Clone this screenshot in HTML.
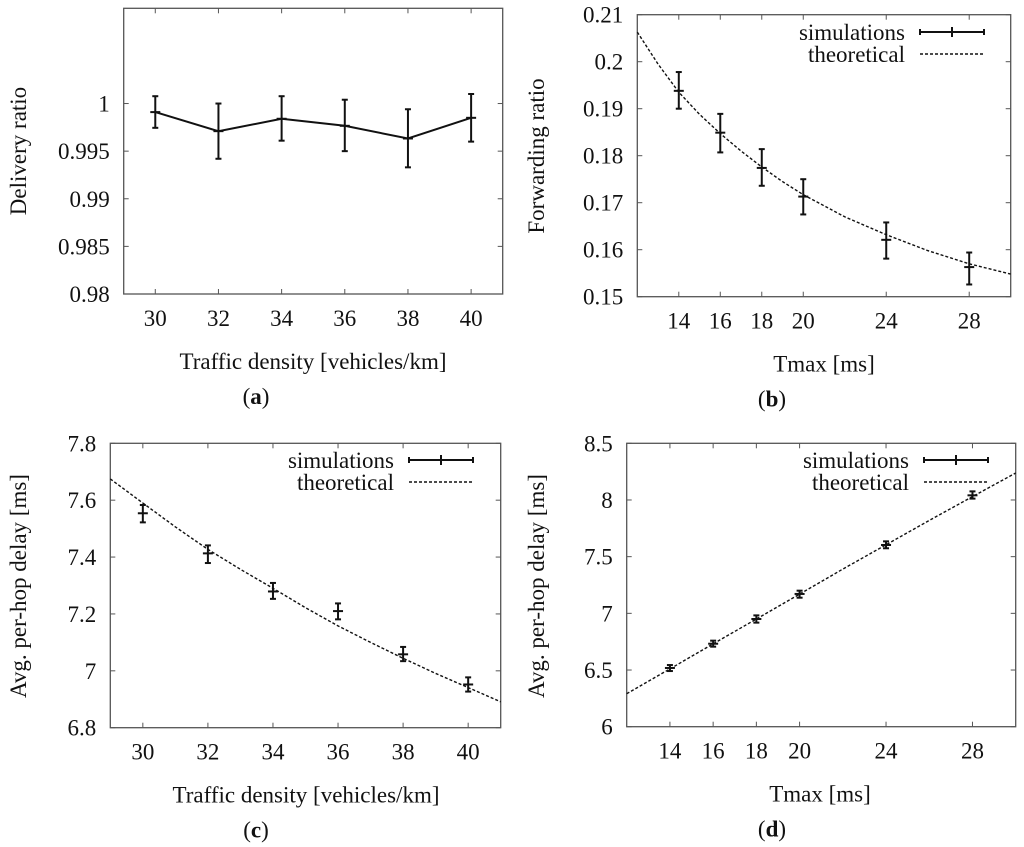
<!DOCTYPE html>
<html><head><meta charset="utf-8"><style>
html,body{margin:0;padding:0;background:#fff;}
svg{display:block;font-family:"Liberation Serif",serif;}
svg text{font-family:"Liberation Serif",serif;}
</style></head><body>
<svg id="fig" width="1024" height="847" viewBox="0 0 1024 847" font-family="Liberation Serif, serif"></svg>
<script>
const NS='http://www.w3.org/2000/svg';
// Panel (a)
const aX=[30,32,34,36,38,40];
const aY=[0.9991,0.9971,0.9984,0.99766,0.99633,0.9985];
const aHi=[1.00077,1.0,1.00077,1.0004,0.9994,1.001];
const aLo=[0.99745,0.9942,0.9961,0.995,0.9933,0.9960];
const aXTicks=[30,32,34,36,38,40];
const aYTicks=[0.98,0.985,0.99,0.995,1];
const aYLabels=['0.98','0.985','0.99','0.995','1'];
// Panel (b)
const bX=[14,16,18,20,24,28];
const bY=[0.1938,0.1849,0.1774,0.1713,0.1621,0.1563];
const bHi=[0.1978,0.1889,0.1814,0.1750,0.1658,0.1594];
const bLo=[0.1900,0.1807,0.1736,0.1675,0.1581,0.1526];
const bTheoX=[12,13,14,15,16,17,18,19,20,22,24,26,28,30];
const bTheoY=[0.2063,0.1995,0.1935,0.1888,0.1847,0.1810,0.1776,0.1745,0.1717,0.1670,0.1632,0.1598,0.1570,0.1548];
const bXTicks=[14,16,18,20,24,28];
const bYTicks=[0.15,0.16,0.17,0.18,0.19,0.2,0.21];
const bYLabels=['0.15','0.16','0.17','0.18','0.19','0.2','0.21'];
// Panel (c)
const cX=[30,32,34,36,38,40];
const cY=[7.554,7.413,7.279,7.210,7.058,6.952];
const cHi=[7.583,7.441,7.309,7.237,7.084,6.977];
const cLo=[7.522,7.379,7.253,7.181,7.034,6.927];
const cTheoX=[29,30,31,32,33,34,35,36,37,38,39,40,41];
const cTheoY=[7.675,7.590,7.506,7.427,7.357,7.290,7.222,7.158,7.100,7.044,6.991,6.941,6.891];
const cXTicks=[30,32,34,36,38,40];
const cYTicks=[6.8,7,7.2,7.4,7.6,7.8];
const cYLabels=['6.8','7','7.2','7.4','7.6','7.8'];
// Panel (d)
const dX=[14,16,18,20,24,28];
const dY=[6.518,6.732,6.95,7.171,7.603,8.041];
const dHi=[6.544,6.759,6.982,7.2,7.635,8.076];
const dLo=[6.491,6.706,6.918,7.138,7.574,8.012];
const dTheoX=[12,14,16,18,20,22,24,26,28,30];
const dTheoY=[6.291,6.51,6.73,6.95,7.17,7.39,7.605,7.82,8.03,8.238];
const dXTicks=[14,16,18,20,24,28];
const dYTicks=[6,6.5,7,7.5,8,8.5];
const dYLabels=['6','6.5','7','7.5','8','8.5'];

const FS=23;
const svg=document.getElementById('fig');
function el(tag,attrs,parent){const e=document.createElementNS(NS,tag);for(const k in attrs)e.setAttribute(k,attrs[k]);(parent||svg).appendChild(e);return e;}
function txt(s,attrs,parent){const t=el('text',attrs,parent);t.textContent=s;return t;}

function panel(o){
  const g=el('g',{});
  
  
  const sx=v=>o.x0+(v-o.xmin)/(o.xmax-o.xmin)*(o.x1-o.x0);
  const sy=v=>o.y1-(v-o.ymin)/(o.ymax-o.ymin)*(o.y1-o.y0);
  o.xt.forEach(v=>{const x=sx(v);
    const t1=el('line',{x1:x,x2:x,y1:o.y1,y2:o.y1-5,stroke:'#555','stroke-width':1},g);
    
    el('line',{x1:x,x2:x,y1:o.y0,y2:o.y0+5,stroke:'#555','stroke-width':1},g);
    const l=txt(String(v),{x:x,y:o.y1+32,'text-anchor':'middle','font-size':FS,fill:'#111'},g);
    
  });
  o.yt.forEach((v,i)=>{const y=sy(v);
    const t1=el('line',{x1:o.x0,x2:o.x0+5,y1:y,y2:y,stroke:'#555','stroke-width':1},g);
    
    el('line',{x1:o.x1,x2:o.x1-5,y1:y,y2:y,stroke:'#555','stroke-width':1},g);
    const l=txt(o.yl[i],{x:o.x0-14,y:y+8,'text-anchor':'end','font-size':FS,fill:'#111'},g);
    
  });
  const fr=el('rect',{x:o.x0,y:o.y0,width:o.x1-o.x0,height:o.y1-o.y0,fill:'none',stroke:'#555','stroke-width':1.3},g);
  
  if(o.tx){
    const d=o.tx.map((v,i)=>(i?'L':'M')+sx(v).toFixed(1)+','+sy(o.ty[i]).toFixed(1)).join(' ');
    const p=el('path',{d:d,fill:'none',stroke:'#111','stroke-width':1.4,'stroke-dasharray':'3,2'},g);
    
  }
  if(o.line){
    const d=o.sx.map((v,i)=>(i?'L':'M')+sx(v).toFixed(1)+','+sy(o.sy[i]).toFixed(1)).join(' ');
    const p=el('path',{d:d,fill:'none',stroke:'#111','stroke-width':2},g);
    
  }
  o.sx.forEach((v,i)=>{
    const x=sx(v),yc=sy(o.sy[i]),yh=sy(o.hi[i]),yl=sy(o.lo[i]);
    const eg=el('g',{stroke:'#111','stroke-width':2},g);
    
    
    el('line',{x1:x,x2:x,y1:yh,y2:yl},eg);
    el('line',{x1:x-3,x2:x+3,y1:yh,y2:yh},eg);
    el('line',{x1:x-3,x2:x+3,y1:yl,y2:yl},eg);
    el('line',{x1:x-5,x2:x+5,y1:yc,y2:yc},eg);
  });
  if(o.legend){
    const lg=el('g',{},g);
    
    const L=o.legend;
    const a=txt('simulations',{x:L.tx,y:L.y1+8,'text-anchor':'end','font-size':FS,fill:'#111'},lg);
    
    el('line',{x1:L.lx0,x2:L.lx1,y1:L.y1,y2:L.y1,stroke:'#111','stroke-width':2},lg);
    el('line',{x1:L.lx0,x2:L.lx0,y1:L.y1-3,y2:L.y1+3,stroke:'#111','stroke-width':2},lg);
    el('line',{x1:L.lx1,x2:L.lx1,y1:L.y1-3,y2:L.y1+3,stroke:'#111','stroke-width':2},lg);
    const mx=(L.lx0+L.lx1)/2;
    el('line',{x1:mx,x2:mx,y1:L.y1-5,y2:L.y1+5,stroke:'#111','stroke-width':2},lg);
    const b=txt('theoretical',{x:L.tx,y:L.y1+30,'text-anchor':'end','font-size':FS,fill:'#111'},lg);
    
    el('line',{x1:L.lx0,x2:L.lx1,y1:L.y1+22,y2:L.y1+22,stroke:'#111','stroke-width':1.4,'stroke-dasharray':'3,2'},lg);
  }
  const xt=txt(o.xtitle,{x:o.xtx,y:o.y1+75,'text-anchor':'middle','font-size':FS,fill:'#111'},g);
  
  const yt=txt(o.ytitle,{x:0,y:0,'text-anchor':'middle','font-size':FS,fill:'#111',transform:'translate('+o.ytx+','+o.yty+') rotate(-90)'},g);
  
  const cap=el('text',{x:o.capx,y:o.y1+110,'text-anchor':'middle','font-size':FS,fill:'#111'},g);
  
  cap.appendChild(document.createTextNode('('));
  const bb=el('tspan',{'font-weight':'bold'},cap);bb.textContent=o.cap;
  cap.appendChild(document.createTextNode(')'));
}

panel({name:'panel-a',x0:123.7,x1:502.7,y0:8.3,y1:294,xmin:29,xmax:41,ymin:0.98,ymax:1.01,
  xt:aXTicks,yt:aYTicks,yl:aYLabels,sx:aX,sy:aY,hi:aHi,lo:aLo,line:true,
  xtitle:'Traffic density [vehicles/km]',xtx:313,ytitle:'Delivery ratio',ytx:26,yty:151,capx:256,cap:'a'});
panel({name:'panel-b',x0:637.3,x1:1010.7,y0:14.7,y1:296.7,xmin:12,xmax:30,ymin:0.15,ymax:0.21,
  xt:bXTicks,yt:bYTicks,yl:bYLabels,sx:bX,sy:bY,hi:bHi,lo:bLo,tx:bTheoX,ty:bTheoY,
  legend:{tx:905,lx0:920,lx1:984,y1:32},
  xtitle:'Tmax [ms]',xtx:824,ytitle:'Forwarding ratio',ytx:544,yty:156,capx:772,cap:'b'});
panel({name:'panel-c',x0:110.3,x1:500.7,y0:443.3,y1:727.7,xmin:29,xmax:41,ymin:6.8,ymax:7.8,
  xt:cXTicks,yt:cYTicks,yl:cYLabels,sx:cX,sy:cY,hi:cHi,lo:cLo,tx:cTheoX,ty:cTheoY,
  legend:{tx:394,lx0:409,lx1:473,y1:460},
  xtitle:'Traffic density [vehicles/km]',xtx:306,ytitle:'Avg. per-hop delay [ms]',ytx:26,yty:586,capx:256,cap:'c'});
panel({name:'panel-d',x0:626.7,x1:1015.7,y0:443.3,y1:726.7,xmin:12,xmax:30,ymin:6,ymax:8.5,
  xt:dXTicks,yt:dYTicks,yl:dYLabels,sx:dX,sy:dY,hi:dHi,lo:dLo,tx:dTheoX,ty:dTheoY,
  legend:{tx:909,lx0:924,lx1:988,y1:460},
  xtitle:'Tmax [ms]',xtx:820,ytitle:'Avg. per-hop delay [ms]',ytx:544,yty:586,capx:772,cap:'d'});
</script>
</body></html>
